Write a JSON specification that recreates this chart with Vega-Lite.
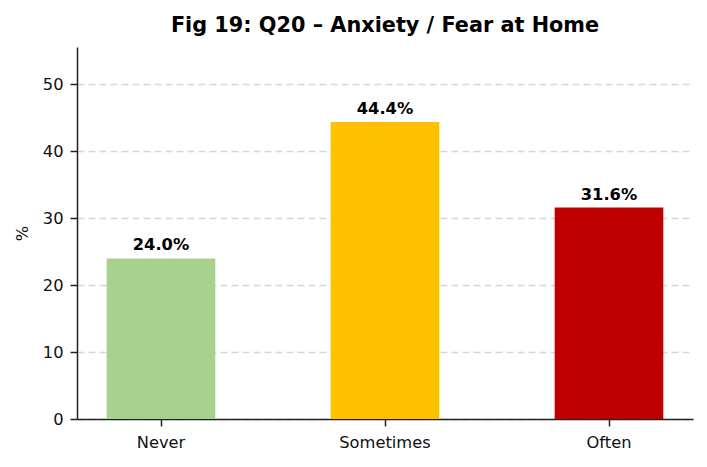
{
  "$schema": "https://vega.github.io/schema/vega-lite/v6.json",
  "width": 616,
  "height": 372,
  "autosize": "none",
  "padding": {"left": 77, "top": 47, "right": 14, "bottom": 48},
  "background": "white",
  "config": {
    "font": "DejaVu Sans",
    "view": {"stroke": null}
  },
  "title": {
    "text": "Fig 19: Q20 – Anxiety / Fear at Home",
    "fontSize": 20.8,
    "fontWeight": "bold",
    "color": "black",
    "anchor": "middle",
    "offset": 10
  },
  "data": {
    "values": [
      {"answer": "Never", "pct": 24.0, "label": "24.0%"},
      {"answer": "Sometimes", "pct": 44.4, "label": "44.4%"},
      {"answer": "Often", "pct": 31.6, "label": "31.6%"}
    ]
  },
  "encoding": {
    "x": {
      "field": "answer",
      "type": "nominal",
      "sort": null,
      "scale": {"paddingInner": 0.515, "paddingOuter": 0.1325},
      "axis": {
        "title": null,
        "labelAngle": 0,
        "labelFontSize": 16.3,
        "labelColor": "#111",
        "labelPadding": 8,
        "domainColor": "#222",
        "domainWidth": 1.5,
        "tickColor": "#222",
        "tickSize": 7,
        "tickWidth": 1.5,
        "grid": false
      }
    },
    "y": {
      "field": "pct",
      "type": "quantitative",
      "scale": {"domain": [0, 55.6], "nice": false},
      "axis": {
        "title": "%",
        "titleFontSize": 16.3,
        "titleFontWeight": "normal",
        "titleColor": "#111",
        "titlePadding": 12,
        "values": [0, 10, 20, 30, 40, 50],
        "labelFontSize": 16.3,
        "labelColor": "#111",
        "labelPadding": 7,
        "domainColor": "#222",
        "domainWidth": 1.5,
        "tickColor": "#222",
        "tickSize": 7,
        "tickWidth": 1.5,
        "grid": true,
        "gridColor": "#cccccc",
        "gridDash": [7, 4],
        "gridWidth": 1.3,
        "gridOpacity": 0.8
      }
    }
  },
  "layer": [
    {
      "mark": {"type": "bar"},
      "encoding": {
        "color": {
          "field": "answer",
          "type": "nominal",
          "scale": {
            "domain": ["Never", "Sometimes", "Often"],
            "range": ["#a9d18e", "#ffc000", "#c00000"]
          },
          "legend": null
        }
      }
    },
    {
      "mark": {
        "type": "text",
        "baseline": "bottom",
        "dy": -5,
        "fontSize": 16.3,
        "fontWeight": "bold",
        "color": "black"
      },
      "encoding": {
        "text": {"field": "label"}
      }
    }
  ]
}
